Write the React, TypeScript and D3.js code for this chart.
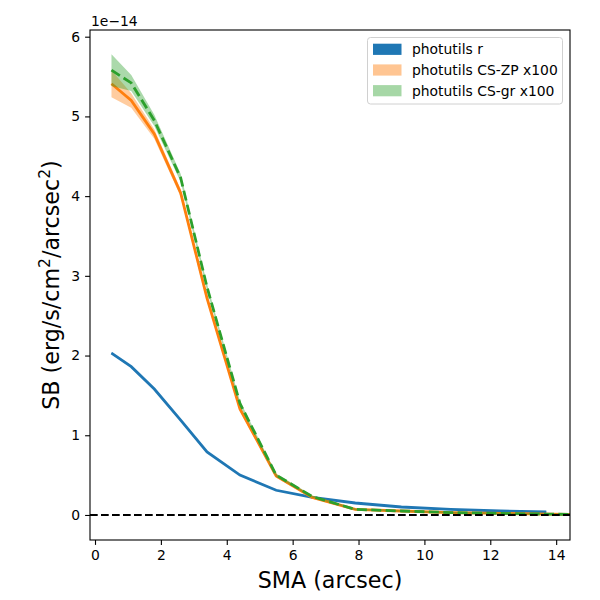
import { useEffect, useRef } from 'react'
import * as d3 from 'd3'

// surface brightness profiles, units of 1e-14 erg/s/cm^2/arcsec^2
const smaR = [0.5, 1.1, 1.8, 2.6, 3.4, 4.4, 5.5, 6.6, 7.9, 9.3, 10.8, 12.3, 13.7]
const sbR = [2.03, 1.86, 1.58, 1.19, 0.79, 0.5, 0.31, 0.22, 0.15, 0.1, 0.07, 0.05, 0.04]
const errR = [0.01, 0.01, 0.01, 0.01, 0.01, 0.005, 0.005, 0.005, 0.005, 0.005, 0.005, 0.005, 0.005]

const smaCS = [0.5, 1.1, 1.8, 2.6, 3.4, 4.4, 5.5, 6.6, 7.9, 9.3, 10.8, 12.3, 13.8, 15.4]
const sbZP = [5.41, 5.2, 4.78, 4.04, 2.72, 1.33, 0.49, 0.22, 0.07, 0.05, 0.03, 0.02, 0.01, 0.005]
const errZP = [0.17, 0.09, 0.06, 0.045, 0.04, 0.03, 0.02, 0.015, 0.01, 0.01, 0.01, 0.01, 0.01, 0.01]
const sbGR = [5.58, 5.42, 4.95, 4.23, 2.86, 1.4, 0.5, 0.23, 0.07, 0.05, 0.03, 0.02, 0.01, 0.005]
const errGR = [0.2, 0.1, 0.07, 0.05, 0.04, 0.03, 0.02, 0.015, 0.01, 0.01, 0.01, 0.01, 0.01, 0.01]

const xTicks = [0, 2, 4, 6, 8, 10, 12, 14]
const yTicks = [0, 1, 2, 3, 4, 5, 6]
const legendLabels = ['photutils r', 'photutils CS-ZP x100', 'photutils CS-gr x100']

const FONT = 'DejaVu Sans, sans-serif'
const BLUE = '#1f77b4'
const ORANGE = '#ff7f0e'
const GREEN = '#2ca02c'

export default function App() {
  const svgRef = useRef<SVGSVGElement>(null)

  useEffect(() => {
    if (!svgRef.current) return
    const width = 600
    const height = 600
    const left = 90, right = 570, top = 30, bottom = 540

    const svg = d3.select(svgRef.current)
    svg.selectAll('*').remove()
    svg.attr('width', width).attr('height', height)

    svg.append('rect').attr('width', width).attr('height', height).attr('fill', '#fff')

    const x = d3.scaleLinear().domain([-0.152, 14.42]).range([left, right])
    const y = d3.scaleLinear().domain([-0.314, 6.084]).range([bottom, top])

    svg.append('clipPath').attr('id', 'plotclip')
      .append('rect')
      .attr('x', left).attr('y', top)
      .attr('width', right - left).attr('height', bottom - top)

    const plot = svg.append('g').attr('clip-path', 'url(#plotclip)')

    const series = [
      { sma: smaR, sb: sbR, err: errR, color: BLUE, alpha: 1, dash: null as string | null },
      { sma: smaCS, sb: sbZP, err: errZP, color: ORANGE, alpha: 0.4, dash: null },
      { sma: smaCS, sb: sbGR, err: errGR, color: GREEN, alpha: 0.4, dash: '10,4.4' },
    ]

    series.forEach(s => {
      const pts = s.sma.map((v, i) => ({ x: v, y: s.sb[i], e: s.err[i] }))
      const area = d3.area<{ x: number, y: number, e: number }>()
        .x(d => x(d.x))
        .y0(d => y(d.y - d.e))
        .y1(d => y(d.y + d.e))
      plot.append('path')
        .attr('d', area(pts))
        .attr('fill', s.color)
        .attr('fill-opacity', s.alpha)
      const line = d3.line<{ x: number, y: number }>().x(d => x(d.x)).y(d => y(d.y))
      const p = plot.append('path')
        .attr('d', line(pts))
        .attr('fill', 'none')
        .attr('stroke', s.color)
        .attr('stroke-width', 2.8)
      if (s.dash) p.attr('stroke-dasharray', s.dash)
    })

    // zero line
    plot.append('line')
      .attr('x1', left).attr('x2', right)
      .attr('y1', y(0)).attr('y2', y(0))
      .attr('stroke', '#000')
      .attr('stroke-width', 2.1)
      .attr('stroke-dasharray', '7.7,3.3')

    // axes
    const xAxis = svg.append('g')
      .attr('transform', `translate(0,${bottom})`)
      .call(d3.axisBottom(x).tickValues(xTicks).tickSize(4.9).tickPadding(4.9).tickFormat(d3.format('d')))
    const yAxis = svg.append('g')
      .attr('transform', `translate(${left},0)`)
      .call(d3.axisLeft(y).tickValues(yTicks).tickSize(4.9).tickPadding(4.9).tickFormat(d3.format('d')))

    ;[xAxis, yAxis].forEach(a => {
      a.select('.domain').remove()
      a.selectAll('line').attr('stroke', '#000').attr('stroke-width', 1.1)
      a.selectAll('text')
        .attr('fill', '#000')
        .style('font-family', FONT)
        .style('font-size', '13.9px')
    })

    // spines
    svg.append('rect')
      .attr('x', left).attr('y', top)
      .attr('width', right - left).attr('height', bottom - top)
      .attr('fill', 'none')
      .attr('stroke', '#000')
      .attr('stroke-width', 1.1)

    // offset text
    svg.append('text')
      .attr('x', left + 1).attr('y', 25.5)
      .style('font-family', FONT).style('font-size', '13.9px')
      .text('1e\u221214')

    // axis labels
    svg.append('text')
      .attr('x', (left + right) / 2).attr('y', 588)
      .attr('text-anchor', 'middle')
      .style('font-family', FONT).style('font-size', '22.2px')
      .text('SMA (arcsec)')

    const yl = svg.append('text')
      .attr('transform', `translate(58.5,${(top + bottom) / 2}) rotate(-90)`)
      .attr('text-anchor', 'middle')
      .style('font-family', FONT).style('font-size', '22.2px')
    yl.append('tspan').text('SB (erg/s/cm')
    yl.append('tspan').attr('dy', -9).style('font-size', '15.5px').text('2')
    yl.append('tspan').attr('dy', 9).text('/arcsec')
    yl.append('tspan').attr('dy', -9).style('font-size', '15.5px').text('2')
    yl.append('tspan').attr('dy', 9).text(')')

    // legend
    const lg = svg.append('g')
    lg.append('rect')
      .attr('x', 367.5).attr('y', 37.5)
      .attr('width', 195).attr('height', 66.5)
      .attr('rx', 3)
      .attr('fill', '#fff').attr('fill-opacity', 0.8)
      .attr('stroke', '#d0d0d0').attr('stroke-width', 1)
    const legendColors = [BLUE, ORANGE, GREEN]
    const legendAlpha = [1, 0.45, 0.42]
    legendLabels.forEach((lab, i) => {
      const cy = 49.3 + i * 20.7
      lg.append('rect')
        .attr('x', 373).attr('y', cy - 5.6)
        .attr('width', 28.5).attr('height', 11.2)
        .attr('fill', legendColors[i])
        .attr('fill-opacity', legendAlpha[i])
      lg.append('text')
        .attr('x', 412).attr('y', cy + 5)
        .style('font-family', FONT).style('font-size', '13.9px')
        .text(lab)
    })
  }, [])

  return (
    <svg ref={svgRef} style={{ position: 'absolute', left: 0, top: 0, display: 'block' }} />
  )
}
